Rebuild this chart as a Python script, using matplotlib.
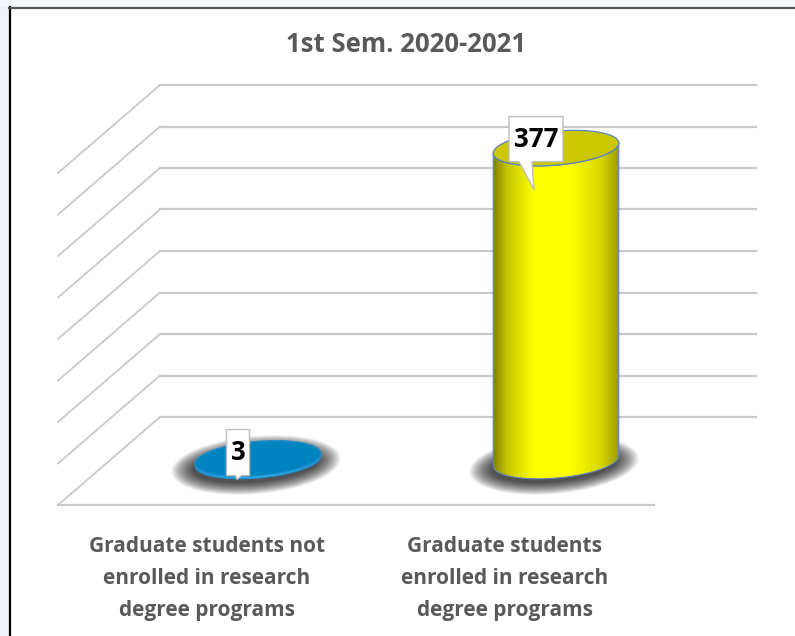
import numpy as np
import matplotlib
matplotlib.use("Agg")
import matplotlib.pyplot as plt
import matplotlib.transforms as mtransforms
from matplotlib.patches import Polygon, Ellipse, Rectangle
from matplotlib.colors import LinearSegmentedColormap

# data
categories = ["Graduate students not\nenrolled in research\ndegree programs",
              "Graduate students\nenrolled in research\ndegree programs"]
values = [3, 377]
title = "1st Sem. 2020-2021"
grid_values = list(range(0, 401, 50))

plt.rcParams['font.family'] = ['Open Sans', 'DejaVu Sans']

fig = plt.figure(figsize=(7.95, 6.36), dpi=100)
fig.patch.set_facecolor('white')

# slide background strips + chart border
fig.add_artist(Rectangle((0, 0), 9/795, 1, transform=fig.transFigure, color='#eef2f6', lw=0))
fig.add_artist(Rectangle((0, 1 - 7/636), 1, 7/636, transform=fig.transFigure, color='#f3f7fb', lw=0))
fig.add_artist(plt.Line2D([10/795, 10/795], [0, 1 - 7/636], transform=fig.transFigure, color='black', lw=1.6))
fig.add_artist(plt.Line2D([9/795, 1], [1 - 8/636, 1 - 8/636], transform=fig.transFigure, color='#555555', lw=1.6))

# plot plane at mid depth
ax = fig.add_axes([109/795, 175/636, 596/795, 332/636])
ax.set_xlim(-0.5, 1.5)
ax.set_ylim(0, 400)
ax.axis('off')

DX, DY = 51, 44  # depth offset in pixels
ident = mtransforms.IdentityTransform()
back = mtransforms.offset_copy(ax.transData, fig=fig, x=DX, y=DY, units='dots')
front = mtransforms.offset_copy(ax.transData, fig=fig, x=-DX, y=-DY, units='dots')
grid_col = '#c9c9c9'

# back wall and left wall gridlines
for v in grid_values:
    ax.plot([-0.5, 1.5], [v, v], transform=back, color=grid_col, lw=1.6, clip_on=False, zorder=1)
    p = ax.transData.transform((-0.5, v))
    ax.plot([p[0] - DX, p[0] + DX], [p[1] - DY, p[1] + DY], transform=ident,
            color=grid_col, lw=1.3, clip_on=False, zorder=1)
# front floor edge
ax.plot([-0.5, 1.5], [0, 0], transform=front, color=grid_col, lw=1.6, clip_on=False, zorder=1)

theta = np.deg2rad(5)
u = np.array([np.cos(theta), np.sin(theta)])
n = np.array([-np.sin(theta), np.cos(theta)])
A, B = 63, 17  # ellipse semi axes, px


def ell(c, t, a=A, b=B):
    return c[None, :] + np.outer(a * np.cos(t), u) + np.outer(b * np.sin(t), n)


def shadow(c):
    # soft blurred shadow built from stacked translucent ellipses
    for k in range(26):
        pad = 22 - k * 0.9
        e = Ellipse((c[0] - 2, c[1] - 4), 2 * (A + pad), 2 * (B + pad * 0.55), angle=5,
                    transform=ident, color='black', alpha=0.038, lw=0, zorder=2, clip_on=False)
        ax.add_patch(e)


yellow_cmap = LinearSegmentedColormap.from_list('cyl', [
    (0, '#767600'), (0.12, '#c4c400'), (0.33, '#ffff00'), (0.62, '#ffff00'),
    (0.85, '#d6d600'), (1, '#959500')])
blue_cmap = LinearSegmentedColormap.from_list('blu', ['#1f9ad8', '#35b0ec', '#1f9ad8'])
tops = ['#0084c0', '#cbc800']
edges = ['#1a8ccc', '#5b82c4']
cmaps = [blue_cmap, yellow_cmap]

for i, v in enumerate(values):
    bot = ax.transData.transform((i, 0))
    top = ax.transData.transform((i, v))
    shadow(bot)
    tt = np.linspace(np.pi, 2 * np.pi, 80)
    body = np.vstack([ell(bot, tt), ell(top, tt[::-1])])
    poly = Polygon(body, closed=True, transform=ident, facecolor='none', edgecolor=edges[i],
                   lw=0.8, zorder=4, clip_on=False)
    grad = np.linspace(0, 1, 256)[None, :]
    xs = ax.transData.inverted().transform([[bot[0] - A - 2, bot[1] - B - 10],
                                            [top[0] + A + 2, top[1] + B + 10]])
    im = ax.imshow(grad, cmap=cmaps[i], extent=[xs[0, 0], xs[1, 0], xs[0, 1], xs[1, 1]],
                   aspect='auto', zorder=3, interpolation='bilinear')
    im.set_clip_box(fig.bbox)
    clip = Polygon(body, closed=True, transform=ident)
    im.set_clip_path(clip)
    ax.add_patch(poly)
    ax.add_patch(Ellipse(top, 2 * A, 2 * B, angle=5, transform=ident, facecolor=tops[i],
                         edgecolor=edges[i], lw=0.9, zorder=5, clip_on=False))

ax.set_xlim(-0.5, 1.5)
ax.set_ylim(0, 400)


# callout data labels
def callout(i, v, dx, dy, w, h, tip):
    c = ax.transData.transform((i, v))
    cx, cy = c[0] + dx, c[1] + dy
    x0, x1 = cx - w / 2, cx + w / 2
    y0, y1 = cy - h / 2, cy + h / 2
    tx0, tx1 = x0 + tip[0], x0 + tip[1]
    pts = [(x0, y0), (tx0, y0), (cx + tip[2], y0 - tip[3]), (tx1, y0),
           (x1, y0), (x1, y1), (x0, y1)]
    ax.add_patch(Polygon(pts, closed=True, transform=ident, facecolor='white',
                         edgecolor='#bfbfbf', lw=1, zorder=6, clip_on=False))
    ax.text(cx, cy, str(v), transform=ident, ha='center', va='center',
            fontsize=18.5, fontweight='bold', color='black', zorder=7)


callout(0, values[0], -20, 6, 23, 46, (9, 15, -1, 4))
callout(1, values[1], -20, 9, 54, 45, (10, 23, -2, 28))

# title
fig.text(406/795, 1 - 44/636, title, ha='center', va='center', fontsize=18.5,
         fontweight='bold', color='#595959')

# category labels below the front floor edge
lab_tr = mtransforms.offset_copy(front, fig=fig, x=0, y=-31, units='dots')
for i, lab in enumerate(categories):
    ax.text(i, 0, lab, transform=lab_tr, ha='center', va='top', fontsize=15,
            fontweight='bold', color='#595959', linespacing=1.68)

fig.savefig('out.png', dpi=100)
